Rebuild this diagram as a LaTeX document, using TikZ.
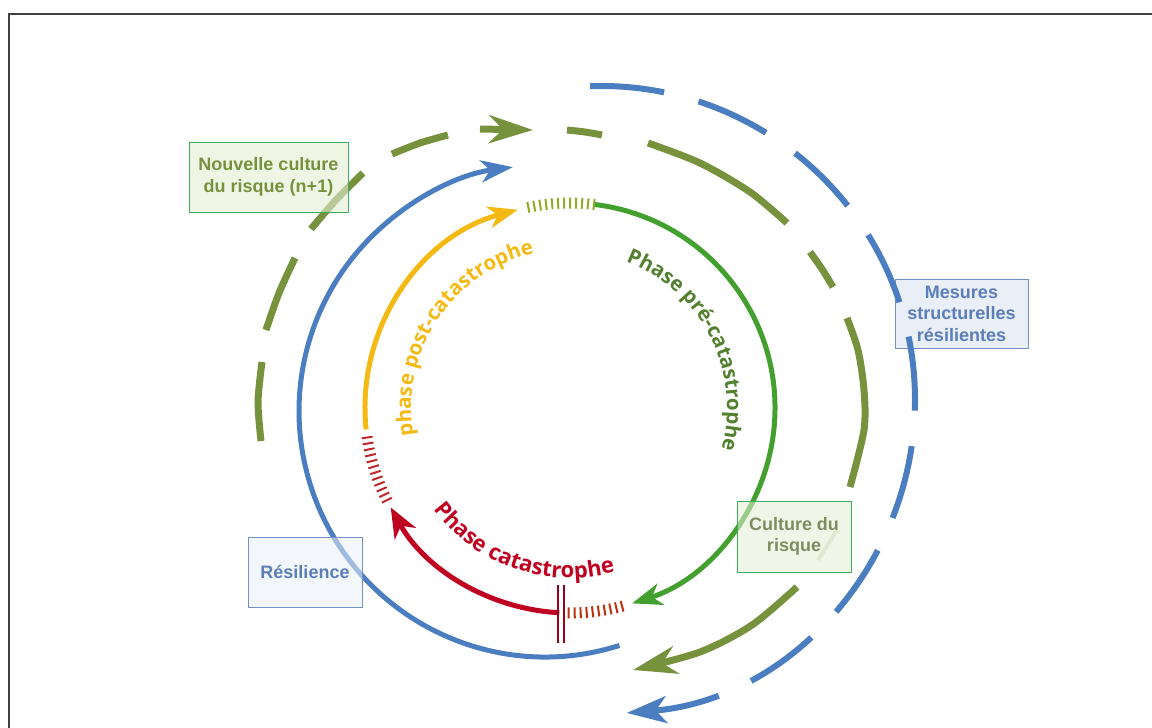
\documentclass[tikz,border=0pt]{standalone}
\usepackage{fontspec}
\setsansfont{Liberation Sans}
\newfontfamily\phasefont{Open Sans}
\usetikzlibrary{arrows.meta,decorations.text}

\definecolor{olivering}{HTML}{76923C}
\definecolor{bluering}{HTML}{4A7EC0}
\definecolor{prephase}{HTML}{43A02E}
\definecolor{prephasetext}{HTML}{53802F}
\definecolor{postphase}{HTML}{F5B914}
\definecolor{catphase}{HTML}{C00020}
\definecolor{greenedge}{HTML}{3DAE5C}
\definecolor{blueedge}{HTML}{7391C4}
\definecolor{greenfill}{HTML}{E4EFD4}
\definecolor{bluefill}{HTML}{E9EEF7}
\definecolor{boxblue}{HTML}{5B7DBA}
\definecolor{boxgrey}{HTML}{7E8C62}

\begin{document}
\begin{tikzpicture}[x=1pt,y=-1pt,
    ring/.style={line width=5pt},
    olivedash/.style={olivering,line width=7pt},
    hatch/.style={line width=11pt,dash pattern=on 2pt off 4pt},
    labelbox/.style={line width=1pt,inner sep=0pt,align=center,text opacity=1,
      font=\sffamily\bfseries\fontsize{18}{21.5}\selectfont},
    riskbox/.style={labelbox,draw=greenedge,fill=greenfill},
    resbox/.style={labelbox,draw=blueedge,fill=bluefill,text=boxblue},
    phase/.style n args={3}{decorate,decoration={text along path,text align=center,
      text={|\phasefont\bfseries\fontsize{#2}{24}\selectfont\color{#1}|#3}}}]
  \useasboundingbox (0,0) rectangle (1152,728);
  \draw[line width=2.5pt,black!75] (9,14) rectangle (1180,760);

  \coordinate (C1) at (570,408);
  \coordinate (C2) at (545,411);
  \coordinate (C3) at (601,400);

  % outer rings
  \node[resbox,minimum width=133pt,minimum height=69pt] (mesures) at (961.5,313.5)
    {Mesures\\structurelles\\résilientes};
  \draw[bluering,line width=6pt,dash pattern=on 74.5pt off 35.6pt,
    -{Stealth[length=40pt,width=27pt,inset=11pt]}]
    (C3) ++(-92:314) arc[start angle=-92,end angle=85.3,radius=314];

  \draw[olivedash] plot[smooth] coordinates {(261,441) (258,402) (262,362)};
  \draw[olivedash] plot[smooth] coordinates {(266,330) (279,293) (295,258)};
  \draw[olivedash] plot[smooth] coordinates {(311,229) (336,200) (363,173)};
  \draw[olivedash] plot[smooth] coordinates {(392,154) (420,143) (448,135)};
  \draw[olivedash,-{Stealth[length=44pt,width=28pt,inset=14pt]}] (480,129) -- (533,130);
  \draw[olivedash] plot[smooth] coordinates {(567,130) (585,132) (602,135)};
  \draw[olivedash] plot[smooth] coordinates {(648,143) (700,163) (750,192) (787,223)};
  \draw[olivedash] plot[smooth] coordinates {(810,252) (822,269) (833,287)};
  \draw[olivedash] plot[smooth] coordinates {(847,318) (858,350) (864,390) (864,430) (850,487)};
  \draw[olivedash,-{Stealth[length=44pt,width=28pt,inset=14pt]}]
    plot[smooth] coordinates {(797,587) (752,625) (700,652) (633,670)};

  \draw[ring,bluering,-{Stealth[length=32pt,width=22pt,inset=9pt]}]
    (C2) ++(72.4:246) arc[start angle=72.4,end angle=262.5,radius=246];

  % phase circle
  \draw[hatch,color=prephase!55!postphase] (C1) ++(-102:205) arc[start angle=-102,end angle=-83,radius=205];
  \draw[hatch,color=catphase!70!brown] (C1) ++(153:205) arc[start angle=153,end angle=172,radius=205];
  \draw[hatch,color=catphase!55!orange!85!black] (C1) ++(75:205) arc[start angle=75,end angle=91,radius=205];

  \draw[ring,prephase,-{Stealth[length=30pt,width=22pt,inset=9pt]}]
    (C1) ++(-83:205) arc[start angle=-83,end angle=72.4,radius=205];
  \draw[ring,postphase,-{Stealth[length=30pt,width=22pt,inset=9pt]}]
    (C1) ++(174:205) arc[start angle=174,end angle=255.3,radius=205];
  \draw[ring,catphase,-{Stealth[length=30pt,width=24pt,inset=9pt]}]
    (C1) ++(93:205) arc[start angle=93,end angle=151,radius=205];
  \draw[line width=2pt,catphase!80!black] (558,585) -- (558,643) (564,585) -- (564,643);

  \path[phase={prephasetext}{20.5}{Phase pré-catastrophe}]
    (C1) ++(-96:157) arc[start angle=-96,end angle=42,radius=157];
  \path[phase={postphase}{20.5}{phase post-catastrophe}]
    (C1) ++(158:159) arc[start angle=158,end angle=269,radius=159];
  \path[phase={catphase}{22}{Phase catastrophe}]
    (C1) ++(168:170) arc[start angle=168,end angle=50,radius=170];

  % labels
  \draw[boxgrey!70,line width=4pt,opacity=0.4] (837,530) -- (818,560);
  \node[riskbox,fill opacity=0.6,text=olivering,minimum width=159pt,minimum height=70pt]
    (nouvelle) at (268.5,177) {Nouvelle culture\\du risque (n+1)};
  \node[riskbox,fill opacity=0.55,text=boxgrey,minimum width=114pt,minimum height=71pt]
    (culture) at (794,536.5) {Culture du\\risque};
  \node[resbox,fill opacity=0.55,minimum width=114pt,minimum height=70pt]
    (resilience) at (305,572) {Résilience};
\end{tikzpicture}
\end{document}
